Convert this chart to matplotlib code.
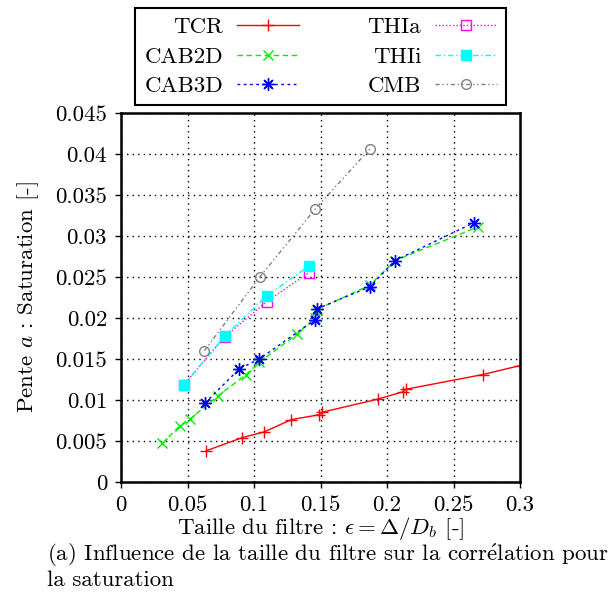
import matplotlib
matplotlib.use("Agg")
import matplotlib.pyplot as plt

plt.rcParams['font.family'] = ['cmr10', 'DejaVu Serif']
plt.rcParams['mathtext.fontset'] = 'cm'
plt.rcParams['axes.unicode_minus'] = False
plt.rcParams['axes.formatter.use_mathtext'] = True

# Data
tcr_x = [0.064, 0.091, 0.1075, 0.128, 0.149, 0.151, 0.193, 0.212, 0.214, 0.272, 0.300]
tcr_y = [0.0038, 0.0054, 0.0061, 0.0076, 0.0082, 0.0085, 0.0101, 0.0110, 0.0113, 0.0131, 0.0142]

cab2d_x = [0.031, 0.044, 0.052, 0.073, 0.094, 0.104, 0.132, 0.146, 0.147, 0.187, 0.206, 0.268]
cab2d_y = [0.0047, 0.0068, 0.0077, 0.0105, 0.0131, 0.0146, 0.0180, 0.0200, 0.0210, 0.0240, 0.0270, 0.0311]

cab3d_x = [0.063, 0.089, 0.104, 0.146, 0.147, 0.187, 0.206, 0.265]
cab3d_y = [0.0096, 0.0138, 0.0150, 0.0198, 0.0211, 0.0238, 0.0270, 0.0316]

thia_x = [0.047, 0.078, 0.1095, 0.141]
thia_y = [0.0118, 0.0177, 0.0220, 0.0255]

thii_x = [0.047, 0.078, 0.1095, 0.141]
thii_y = [0.0118, 0.0178, 0.0227, 0.0263]

cmb_x = [0.0626, 0.1043, 0.146, 0.187]
cmb_y = [0.0160, 0.0250, 0.0333, 0.0406]

xticks = [0, 0.05, 0.1, 0.15, 0.2, 0.25, 0.3]
xtick_labels = ['0', '0.05', '0.1', '0.15', '0.2', '0.25', '0.3']
yticks = [0, 0.005, 0.01, 0.015, 0.02, 0.025, 0.03, 0.035, 0.04, 0.045]
ytick_labels = ['0', '0.005', '0.01', '0.015', '0.02', '0.025', '0.03', '0.035', '0.04', '0.045']

fs = 16.5

fig = plt.figure(figsize=(6.13, 5.95), dpi=100)
ax = fig.add_axes([0.1974, 0.190, 0.651, 0.620])

lw = 1.0
ax.plot(tcr_x, tcr_y, color='#ff0000', ls='-', lw=lw, marker='+', ms=8, mew=1, label='TCR')
ax.plot(cab2d_x, cab2d_y, color='#00ee00', ls=(0, (4, 2.5)), lw=lw, marker='x', ms=7, mew=1, label='CAB2D')
ax.plot(cab3d_x, cab3d_y, color='#0000ff', ls=(0, (2, 2.5)), lw=lw, marker=(8, 2, 0), ms=9, mew=1, label='CAB3D')
ax.plot(thia_x, thia_y, color='#ff00ff', ls=(0, (1, 1.5)), lw=lw, marker='s', ms=7, mfc='none', mew=1, label='THIa')
ax.plot(thii_x, thii_y, color='#00ffff', ls=(0, (4, 2, 1, 2)), lw=lw, marker='s', ms=7, mew=1, label='THIi')
ax.plot(cmb_x, cmb_y, color='#808080', ls=(0, (3, 2, 1, 2, 1, 2)), lw=lw, marker='o', ms=7, mfc='none', mew=1, label='CMB')

ax.set_xlim(0, 0.3)
ax.set_ylim(0, 0.045)
ax.set_xticks(xticks)
ax.set_xticklabels(xtick_labels)
ax.set_yticks(yticks)
ax.set_yticklabels(ytick_labels)
ax.tick_params(direction='out', length=4, width=1, labelsize=fs, pad=6,
               top=False, right=False)
for s in ax.spines.values():
    s.set_linewidth(1.8)
ax.grid(True, color='black', ls=(0, (1, 3)), lw=1)

ax.set_xlabel(r'Taille du filtre : $\epsilon = \Delta/D_b$ [-]', fontsize=fs, labelpad=0)
ax.set_ylabel(r'Pente $a$ : Saturation [-]', fontsize=fs, labelpad=10)

leg = fig.legend(loc='upper center', bbox_to_anchor=(0.523, 0.987), ncol=2,
                 markerfirst=False, fontsize=fs, handlelength=2.7, handletextpad=0.6,
                 columnspacing=3.0, labelspacing=0.42, fancybox=False,
                 edgecolor='black', framealpha=1, borderpad=0.4, borderaxespad=0)
leg.get_frame().set_linewidth(1.5)

fig.text(0.077, 0.049, '(a) Influence de la taille du filtre sur la corr$\\acute{\\mathrm{e}}$lation pour\nla saturation',
         fontsize=fs, ha='left', va='center', linespacing=1.1)

fig.savefig('out.png', dpi=100)
